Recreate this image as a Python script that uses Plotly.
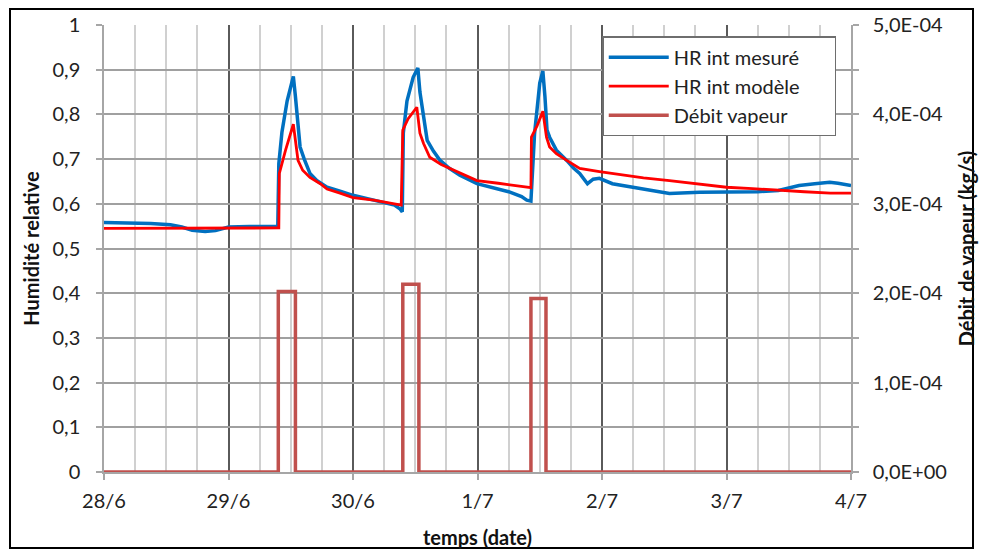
import plotly.graph_objects as go

# ---- data (x in hours since 28/6 00:00) ----
day_ticks_h = [0, 24, 48, 72, 96, 120, 144]
day_labels = ["28/6", "29/6", "30/6", "1/7", "2/7", "3/7", "4/7"]

hr_tickvals = [0, 0.1, 0.2, 0.3, 0.4, 0.5, 0.6, 0.7, 0.8, 0.9, 1]
hr_ticktext = ["0", "0,1", "0,2", "0,3", "0,4", "0,5", "0,6", "0,7", "0,8", "0,9", "1"]

flow_tickvals = [0, 1e-4, 2e-4, 3e-4, 4e-4, 5e-4]
flow_ticktext = ["0,0E+00", "1,0E-04", "2,0E-04", "3,0E-04", "4,0E-04", "5,0E-04"]

meas_t = [0, 5, 9, 12.8, 15, 17, 19.5, 21.5, 23, 24, 28, 33.5,
          33.7, 34.3, 35.3, 36.0, 36.5, 36.9, 37.2, 37.8, 38.6, 39.7, 41.0, 43.0, 45.5, 48, 51, 54, 56, 57.1, 57.5,
          57.7, 58.4, 59.6, 60.5, 60.9, 61.6, 62.3, 63.5, 64.8, 66.5, 68.6, 71.9, 75, 78, 80.5, 81.5, 82.3,
          83.0, 84.0, 84.6, 85.0, 85.4, 85.9, 87.2, 89.2, 90.5, 91.7, 93.2, 94.3, 95.5, 98, 101.9, 105, 109,
          114.8, 121, 126, 130, 134, 137, 139.9, 141.5, 144]
meas_v = [0.558, 0.557, 0.556, 0.553, 0.548, 0.541, 0.538, 0.540, 0.545, 0.548, 0.549, 0.549,
          0.690, 0.760, 0.830, 0.862, 0.885, 0.840, 0.794, 0.727, 0.700, 0.668, 0.652, 0.637, 0.628, 0.619, 0.611, 0.603, 0.597, 0.588, 0.582,
          0.758, 0.830, 0.883, 0.904, 0.850, 0.794, 0.742, 0.718, 0.697, 0.680, 0.664, 0.645, 0.636, 0.627, 0.616, 0.608, 0.606,
          0.757, 0.870, 0.897, 0.840, 0.765, 0.749, 0.720, 0.697, 0.680, 0.668, 0.645, 0.655, 0.657, 0.645, 0.637, 0.630, 0.623,
          0.626, 0.626, 0.627, 0.630, 0.641, 0.645, 0.648, 0.646, 0.641]

model_t = [0, 12, 24, 33.7, 33.8, 35.0, 36.5, 37.4, 38.3, 39.7, 41.7, 43.0, 45.5, 48, 52, 57.3,
           57.6, 58.6, 60.3, 60.9, 61.6, 62.8, 65.0, 68.6, 71.9, 76, 81.5, 82.3,
           82.4, 83.5, 84.6, 85.3, 85.9, 87.2, 89.2, 91.7, 95.5, 100, 104, 109, 115, 120, 125, 130, 135, 140, 144]
model_v = [0.545, 0.545, 0.545, 0.546, 0.668, 0.720, 0.778, 0.697, 0.675, 0.659, 0.645, 0.633, 0.624, 0.614, 0.608, 0.597,
           0.765, 0.790, 0.816, 0.758, 0.735, 0.704, 0.688, 0.670, 0.652, 0.646, 0.637, 0.636,
           0.749, 0.775, 0.807, 0.749, 0.727, 0.712, 0.697, 0.679, 0.672, 0.664, 0.658, 0.652, 0.643, 0.637, 0.634, 0.630, 0.627, 0.624, 0.624]

flow_t = [0, 33.6, 33.6, 36.9, 36.9, 57.6, 57.6, 60.7, 60.7, 82.3, 82.3, 85.2, 85.2, 144]
flow_v = [0, 0, 2.02e-4, 2.02e-4, 0, 0, 2.1e-4, 2.1e-4, 0, 0, 1.94e-4, 1.94e-4, 0, 0]

FONT = "Lato"
NB = "\u00a0"

fig = go.Figure()
fig.add_trace(go.Scatter(x=meas_t, y=meas_v, mode="lines", name="HR int mesuré" + NB * 6,
                         line=dict(color="#0070C0", width=3.5), legendgroup="a"))
fig.add_trace(go.Scatter(x=model_t, y=model_v, mode="lines", name="HR int modèle",
                         line=dict(color="#FF0000", width=2.8), legendgroup="b"))
fig.add_trace(go.Scatter(x=flow_t, y=flow_v, mode="lines", name="Débit vapeur", yaxis="y2",
                         line=dict(color="#C0504D", width=3.5), legendgroup="c"))

fig.update_layout(
    width=981, height=550,
    margin=dict(l=104, r=130, t=25, b=78, autoexpand=False),
    paper_bgcolor="white", plot_bgcolor="white",
    font=dict(family=FONT, size=20, color="#222222"),
    showlegend=True,
    legend=dict(x=0.667, y=0.975, xanchor="left", yanchor="top",
                bgcolor="white", bordercolor="#6e6e6e", borderwidth=1.5,
                font=dict(family=FONT, size=20, color="#222222"),
                tracegroupgap=0, itemwidth=60),
    xaxis=dict(range=[0, 144], tickmode="array", tickvals=day_ticks_h, ticktext=day_labels,
               showgrid=True, gridcolor="#5a5a5a", gridwidth=1.5,
               minor=dict(dtick=6, tick0=0, showgrid=True, gridcolor="#d0d0d0", gridwidth=1.5,
                          ticks=""),
               ticks="outside", ticklen=6, tickcolor="#a6a6a6", tickwidth=1.5,
               showline=True, linecolor="#a6a6a6", linewidth=1.5, zeroline=False,
               ticklabelstandoff=4, automargin=False,
               title=dict(text="<b>temps (date)</b>", font=dict(family=FONT, size=20, color="#111"),
                          standoff=20)),
    yaxis=dict(range=[0, 1], tickmode="array", tickvals=hr_tickvals, ticktext=hr_ticktext,
               showgrid=True, gridcolor="#a0a0a0", gridwidth=1.5,
               ticks="outside", ticklen=6, tickcolor="#a6a6a6", tickwidth=1.5,
               showline=True, linecolor="#a6a6a6", linewidth=1.5, zeroline=False,
               ticklabelstandoff=12, automargin=False,
               title=dict(text="<b>Humidité relative</b>", font=dict(family=FONT, size=20, color="#111"),
                          standoff=8)),
    yaxis2=dict(range=[0, 5e-4], overlaying="y", side="right", tickmode="array",
                tickvals=flow_tickvals, ticktext=flow_ticktext, showgrid=False,
                ticks="outside", ticklen=6, tickcolor="#a6a6a6", tickwidth=1.5,
                minor=dict(dtick=0.5e-4, ticks="outside", ticklen=6, tickcolor="#a6a6a6", tickwidth=1.5),
                showline=True, linecolor="#a6a6a6", linewidth=1.5, zeroline=False,
                ticklabelstandoff=10, automargin=False,
                title=dict(text="<b>Débit de vapeur (kg/s)</b>", font=dict(family=FONT, size=20, color="#111"),
                           standoff=14)),
)

# outer chart border
fig.add_shape(type="rect", xref="paper", yref="paper",
              x0=(10 - 104) / 747, x1=(973 - 104) / 747,
              y0=-(548 - 472) / 447, y1=1 + (25 - 9) / 447,
              line=dict(color="#000000", width=2), fillcolor="rgba(0,0,0,0)", layer="below")

fig.write_html("out.html")
